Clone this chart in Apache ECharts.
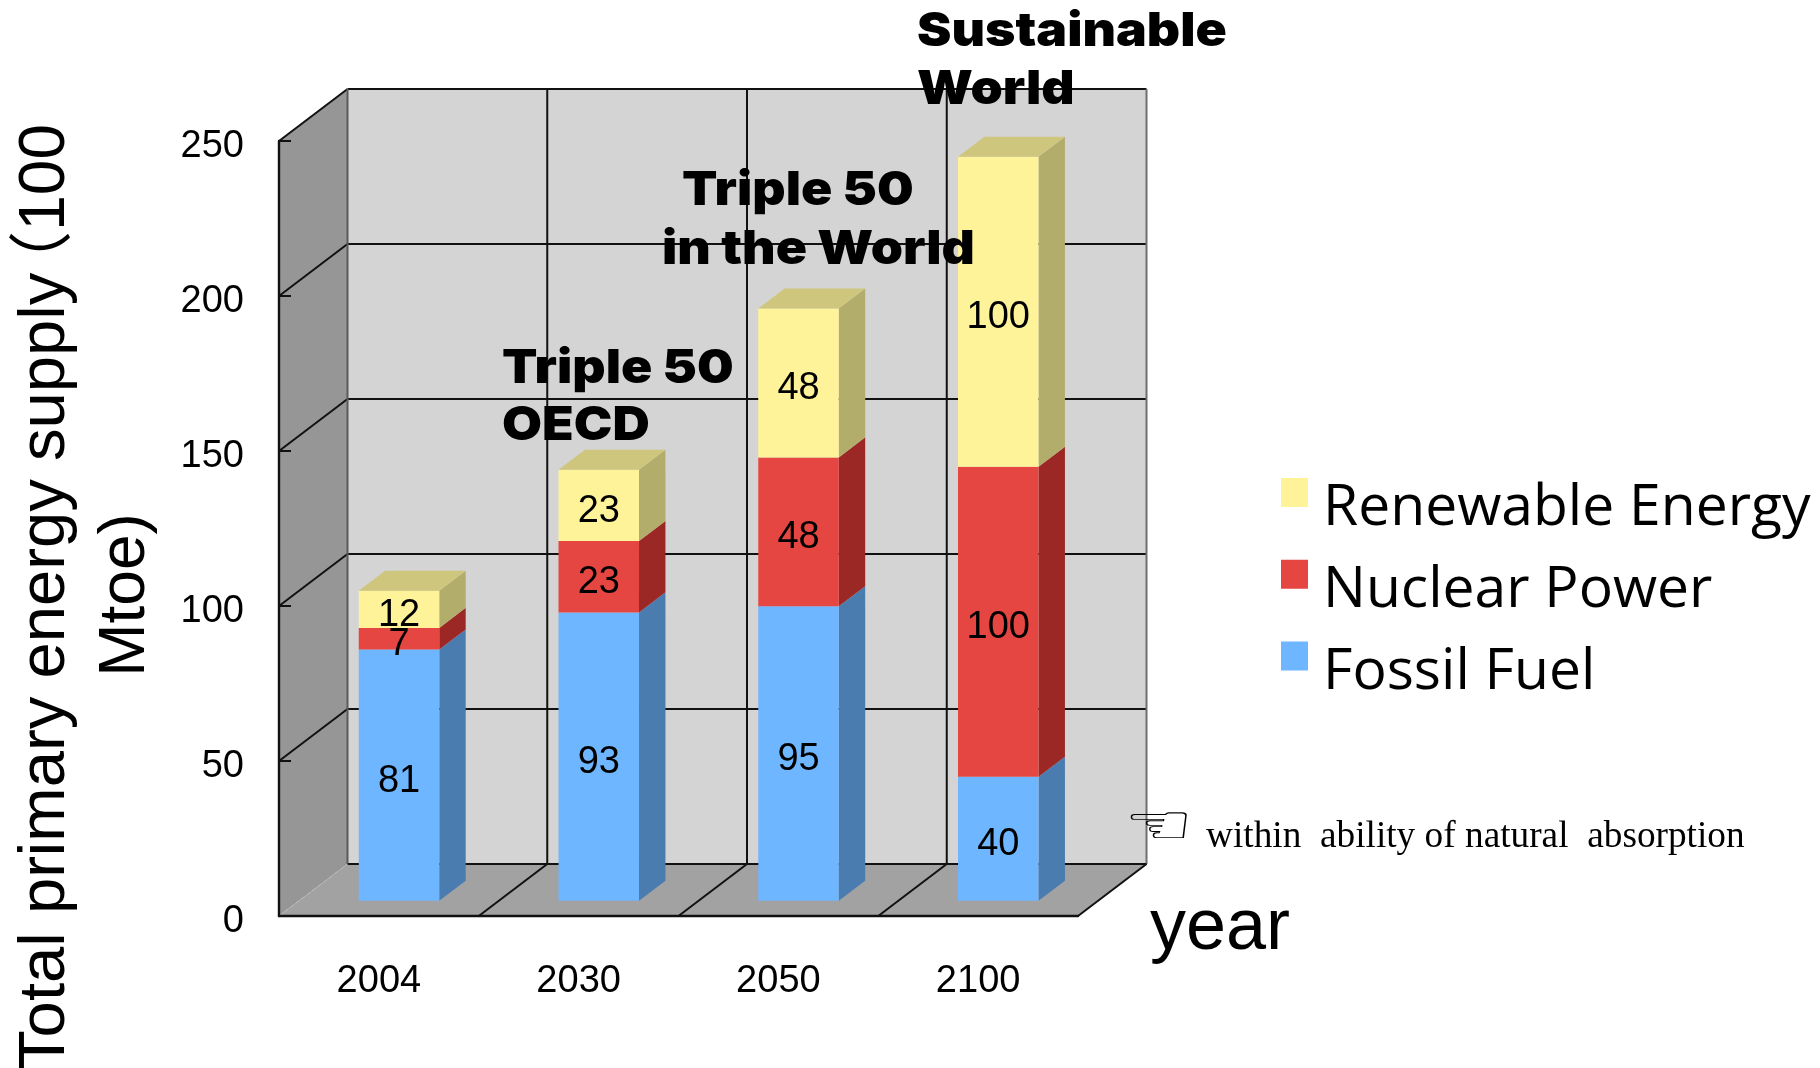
<!DOCTYPE html>
<html>
<head>
<meta charset="utf-8">
<title>Total primary energy supply</title>
<style>html,body{margin:0;padding:0;background:#fff}#chart{width:1820px;height:1068px}</style>
<script src="https://cdn.jsdelivr.net/npm/echarts@6/dist/echarts.min.js"></script>
</head>
<body>
<div id="chart"></div>
<script>
// Chart values
const years = ['2004', '2030', '2050', '2100'];
const fossilFuel = [81, 93, 95, 40];
const nuclearPower = [7, 23, 48, 100];
const renewableEnergy = [12, 23, 48, 100];
const valueTicks = [0, 50, 100, 150, 200, 250];

// Oblique projection of the box: depth shift of the walls and of the bars
const DEPTH_X = 68.5, DEPTH_Y = 52;
const BAR_NEAR = 0.294, BAR_FAR = 0.68, BAR_WIDTH = 0.403;
const LINE = '#111111';
const SANS = '"Liberation Sans","Noto Sans CJK JP",sans-serif';

function poly(points, fill, z2) {
  return { type: 'polygon', shape: { points }, style: { fill }, z2: z2 || 0, silent: true };
}
function seg(x1, y1, x2, y2, stroke, width, dash) {
  return { type: 'line', shape: { x1, y1, x2, y2 }, silent: true, z2: 2,
    style: { stroke, lineWidth: width || 2, lineDash: dash || null } };
}

// Walls, floor and the grid lines running over them
function renderBox(params, api) {
  const g = params.coordSys;
  const l = g.x, r = g.x + g.width, b = g.y + g.height, t = g.y;
  const dx = DEPTH_X, dy = DEPTH_Y;
  const kids = [
    poly([[l, t], [l + dx, t - dy], [l + dx, b - dy], [l, b]], '#969696'),
    poly([[l + dx, t - dy], [r + dx, t - dy], [r + dx, b - dy], [l + dx, b - dy]], '#d4d4d4'),
    poly([[l, b], [r, b], [r + dx, b - dy], [l + dx, b - dy]], '#a2a2a2')
  ];
  valueTicks.forEach(v => {
    const y = api.coord([0, v])[1];
    if (v > 0) {
      kids.push(seg(l, y, l + dx, y - dy, LINE));
      kids.push(seg(l + dx, y - dy, r + dx, y - dy, LINE));
    }
  });
  const band = api.size([1, 0])[0];
  years.forEach((_, i) => {
    const x = l + band * (i + 1);
    if (i < years.length - 1) {
      kids.push(seg(x + dx, t - dy, x + dx, b - dy, LINE));
    }
    kids.push(seg(x, b, x + dx, b - dy, LINE));
  });
  kids.push(seg(l + dx, t - dy, l + dx, b - dy, '#5a5a5a'));
  kids.push(seg(r + dx, t - dy, r + dx, b - dy, '#6e6e6e'));
  kids.push(seg(l + dx, b - dy, r + dx, b - dy, LINE));
  kids.push(seg(l, b, l + dx, b - dy, '#bdbdbd', 1, [4, 3]));
  return { type: 'group', children: kids };
}

// One stacked block: front face, side face, optional top face and its value label
function blockRenderer(sideColor, topColor) {
  return function (params, api) {
    const band = api.size([1, 0])[0];
    const cx = api.coord([api.value(0), 0])[0];
    const y0 = api.coord([0, api.value(1)])[1] - DEPTH_Y * BAR_NEAR;
    const y1 = api.coord([0, api.value(1) + api.value(2)])[1] - DEPTH_Y * BAR_NEAR;
    const xL = cx + DEPTH_X * BAR_NEAR - band * BAR_WIDTH / 2;
    const xR = xL + band * BAR_WIDTH;
    const sx = DEPTH_X * (BAR_FAR - BAR_NEAR), sy = DEPTH_Y * (BAR_FAR - BAR_NEAR);
    const front = api.style().fill;
    const kids = [
      poly([[xR, y0], [xR + sx, y0 - sy], [xR + sx, y1 - sy], [xR, y1]], sideColor),
      poly([[xL, y0], [xR, y0], [xR, y1], [xL, y1]], front, 1)
    ];
    if (topColor) {
      kids.push(poly([[xL, y1], [xR, y1], [xR + sx, y1 - sy], [xL + sx, y1 - sy]], topColor, 1));
    }
    kids.push({
      type: 'text', z2: 50, silent: true,
      style: {
        x: (xL + xR) / 2, y: (y0 + y1) / 2 + 6,
        text: String(api.value(2)), fontSize: 38, fontFamily: SANS,
        fill: '#000', align: 'center', verticalAlign: 'middle'
      }
    });
    return { type: 'group', children: kids };
  };
}

// Rows of [category index, stack base, value]
function stackRows(values, lowerLayers) {
  return values.map((v, i) => [i, lowerLayers.reduce((s, a) => s + a[i], 0), v]);
}

function blockSeries(name, values, lowerLayers, color, side, top) {
  return {
    name, type: 'custom', z: 10, silent: true, clip: false,
    itemStyle: { color },
    encode: { x: 0, y: [1, 2] },
    data: stackRows(values, lowerLayers),
    renderItem: blockRenderer(side, top)
  };
}

// Heavy callout above a bar, widened to the look of a black-weight face
function note(text, x, y) {
  return {
    type: 'text', x, y, scaleX: 1.1, z: 30, silent: true,
    style: {
      text, fontSize: 47, fontWeight: 900, fontFamily: 'Inter,"Liberation Sans",sans-serif',
      fill: '#000', textAlign: 'left', textVerticalAlign: 'middle'
    }
  };
}

// Rotated text of the value-axis title
function titlePart(text, x, y, align, stretch) {
  return {
    type: 'text', x, y, rotation: Math.PI / 2, scaleX: stretch || 1, z: 30, silent: true,
    style: {
      text, fontSize: 64, fontFamily: SANS, fill: '#000',
      textAlign: align, textVerticalAlign: 'middle'
    }
  };
}

const chart = echarts.init(document.getElementById('chart'), null, { renderer: 'canvas' });
chart.setOption({
  animation: false,
  backgroundColor: '#fff',
  tooltip: { show: false },
  grid: { left: 279, top: 141, width: 799, height: 775, containLabel: false },
  xAxis: {
    type: 'category', data: years, z: 5,
    name: 'year', nameLocation: 'end', nameGap: 72,
    nameTextStyle: { fontSize: 72, fontFamily: SANS, color: '#000', verticalAlign: 'top', lineHeight: 26 },
    axisLine: { lineStyle: { color: LINE, width: 2.4 } },
    axisTick: { inside: true, length: 12, lineStyle: { color: LINE, width: 2 } },
    axisLabel: { margin: 47, fontSize: 38, fontFamily: SANS, color: '#000' },
    splitLine: { show: false }
  },
  yAxis: {
    type: 'value', min: 0, max: 250, interval: 50, z: 5,
    axisLine: { show: true, lineStyle: { color: LINE, width: 2.4 } },
    axisTick: { show: true, inside: true, length: 12, lineStyle: { color: LINE, width: 2 } },
    axisLabel: { margin: 35, fontSize: 38, fontFamily: SANS, color: '#000', verticalAlign: 'top', lineHeight: 12 },
    splitLine: { show: false }
  },
  legend: {
    orient: 'vertical', left: 1281, top: 478,
    // swatch sits in the upper part of the symbol box so the text hangs below its centre
    icon: 'path://M0 0H27V29H0Z M0 62L0 62',
    itemWidth: 27, itemHeight: 62, itemGap: 19.7, padding: 0,
    selectedMode: false,
    data: ['Renewable Energy', 'Nuclear Power', 'Fossil Fuel'],
    textStyle: {
      fontSize: 57, fontFamily: '"Open Sans",sans-serif', color: '#000',
      padding: [0, 0, 0, 10]
    }
  },
  series: [
    {
      name: 'box', type: 'custom', z: 1, silent: true, clip: false,
      encode: { x: 0, y: 1 }, data: [[0, 0]], renderItem: renderBox
    },
    blockSeries('Fossil Fuel', fossilFuel, [], '#6eb6ff', '#4a7cb0'),
    blockSeries('Nuclear Power', nuclearPower, [fossilFuel], '#e54641', '#9c2825'),
    blockSeries('Renewable Energy', renewableEnergy, [fossilFuel, nuclearPower], '#fff39a', '#b3ad6c', '#cfc67e')
  ],
  graphic: [
    titlePart('Total primary energy supply', 46, 1070, 'left', 1.019),
    titlePart('（100', 46, 124, 'right'),
    titlePart('Mtoe)', 126, 595, 'center'),
    note('Sustainable', 917, 32),
    note('World', 917, 90),
    note('Triple 50', 682, 191),
    note('in the World', 662, 250),
    note('Triple 50', 502, 369),
    note('OECD', 502, 426),
    {
      type: 'text', x: 1124, y: 830, scaleX: 1.25, scaleY: 0.9, z: 30, silent: true,
      style: { text: '☜', fontSize: 62, fontFamily: '"DejaVu Sans"', fill: '#000', textAlign: 'left', textVerticalAlign: 'middle' }
    },
    {
      type: 'text', x: 1206, y: 837, z: 30, silent: true,
      style: {
        text: 'within  ability of natural  absorption',
        fontSize: 37.3, fontFamily: '"Liberation Serif",serif', fill: '#000',
        textAlign: 'left', textVerticalAlign: 'middle'
      }
    }
  ]
});
</script>
</body>
</html>
